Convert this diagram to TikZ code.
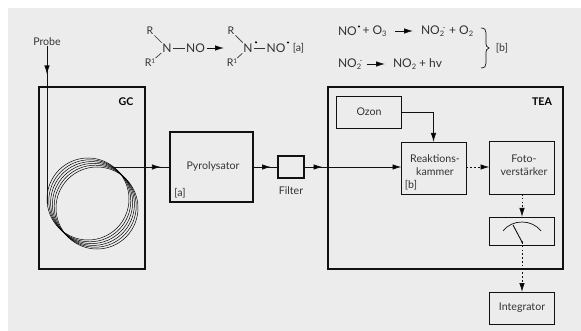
\documentclass[tikz,border=0pt]{standalone}
\usepackage{fontspec}
\setmainfont{Lato}
\usetikzlibrary{arrows.meta,decorations.markings}
\definecolor{bgc}{HTML}{ECECEC}
\definecolor{ink}{HTML}{111111}
\definecolor{txt}{HTML}{333333}
\newcommand{\sbs}[1]{\raisebox{-.25ex}{\fontsize{7.5}{8}\selectfont #1}}
\newcommand{\sps}[1]{\raisebox{.6ex}{\fontsize{6.5}{7}\selectfont #1}}
\tikzset{
  x=1pt,y=-1pt,
  lbl/.style={inner sep=0pt,outer sep=0pt,text=txt,font=\fontsize{10.6}{12}\selectfont,align=center},
  chem/.style={lbl,font=\fontsize{12}{13}\selectfont},
  boldlbl/.style={lbl,text=black,font=\fontsize{10.6}{12}\selectfont\bfseries},
  thinbox/.style={draw=ink,line width=.8pt,inner sep=0pt,outer sep=0pt},
  thickbox/.style={draw=ink,line width=1.5pt,inner sep=0pt,outer sep=0pt},
  conn/.style={draw=ink,line width=.8pt},
  tipstyle/.style={-{Latex[length=9pt,width=5.5pt,fill=black]}},
  midtip/.style={postaction={decorate},decoration={markings,mark=at position #1 with {\arrow{Latex[length=9pt,width=5.5pt,fill=black]}}}},
  dotline/.style={draw=ink,line width=.9pt,dash pattern=on 1.6pt off 2.2pt},
  bond/.style={draw=txt,line width=.7pt,shorten >=1.5pt,shorten <=1.5pt},
  coil/.style={draw=black,line width=.5pt},
  raddot/.style={fill=black}
}
\begin{document}
\begin{tikzpicture}
\useasboundingbox (0,0) rectangle (581,331);
\fill[bgc] (8,8) rectangle (581,331);

% boxes
\node[thickbox,line width=1.3pt,minimum width=106pt,minimum height=182pt] (gc) at (92,178) {};
\node[thickbox,minimum width=83pt,minimum height=70pt] (pyro) at (211.5,167) {};
\node[thickbox,minimum width=26pt,minimum height=22pt] (filt) at (291,167) {};
\node[thickbox,line width=1.7pt,minimum width=235pt,minimum height=182pt] (tea) at (445.5,178) {};
\node[thinbox,minimum width=65pt,minimum height=32pt] (ozon) at (369,112) {};
\node[thinbox,minimum width=65pt,minimum height=52pt] (reak) at (434,168) {};
\node[thinbox,minimum width=65pt,minimum height=53pt] (foto) at (522,167.5) {};
\node[thinbox,minimum width=65pt,minimum height=28pt] (meter) at (522,231) {};
\node[thinbox,minimum width=65pt,minimum height=32pt] (integ) at (522,308) {};

% labels
\node[boldlbl] (gcl) at (126,102) {GC};
\node[boldlbl] (teal) at (542,102) {TEA};
\node[lbl] (probe) at (47,42) {Probe};
\node[lbl] (pyl) at (213,167) {Pyrolysator};
\node[lbl] (pya) at (180,193) {[a]};
\node[lbl] (fl) at (291,191) {Filter};
\node[lbl] (ol) at (369,112) {Ozon};
\node[lbl] (rl1) at (435,159) {Reaktions-};
\node[lbl] (rl2) at (435,172) {kammer};
\node[lbl] (rb) at (411,185) {[b]};
\node[lbl] (fl1) at (524,159) {Foto-};
\node[lbl] (fl2) at (524,172) {verstärker};
\node[lbl] (il) at (522,308) {Integrator};

% coil
\foreach \i in {0,...,5}{
  \draw[coil] ({88+1.8*\i},{199+1.8*\i}) circle (41);
}
\coordinate (coilin) at (47,204);
\coordinate (coilout) at (113,167);

% connectors
\draw[conn,midtip=.18] (probe.south) -- (coilin);
\draw[conn,midtip=.84] (coilout) -- (pyro.west);
\draw[conn,midtip=.72] (pyro.east) -- (filt.west);
\draw[conn,tipstyle,midtip=.19] (filt.east) -- (reak.west |- filt.east);
\coordinate (ozbend) at (433.5,112);
\draw[conn,tipstyle] (ozon.east) -- (ozbend) -- (reak.north -| ozbend);
\coordinate (rmid) at (481,167);
\coordinate (rtip) at (490,167);
\draw[dotline] (reak.east |- rmid) -- (rmid);
\draw[conn,tipstyle] (rmid) -- (foto.west |- rtip);
\coordinate (fmid) at (522,208);
\draw[dotline] (foto.south) -- (fmid);
\draw[conn,tipstyle] (fmid) -- (meter.north);

% meter
\coordinate (piv) at (522,242);
\coordinate (ntop) at (513,225);
\coordinate (arcl) at (503,231);
\coordinate (arcr) at (541,231);
\draw[ink,line width=.7pt] (arcl) .. controls (512,219) and (532,219) .. (arcr);
\draw[ink,line width=.9pt] (ntop) -- (piv);
\fill[ink] (piv) circle (1);
\coordinate (imid) at (522,283);
\draw[dotline] (piv) -- (imid);
\draw[conn,tipstyle] (imid) -- (integ.north);

% chemistry 1
\node[lbl] (r1) at (150,31) {R};
\node[lbl] (r2) at (150,63) {R\sps{1}};
\node[chem] (n1) at (167,48) {N};
\node[chem] (no1) at (195.5,48) {NO};
\draw[bond] (r1) -- (n1);
\draw[bond] (r2) -- (n1);
\draw[bond] (n1) -- (no1);
\coordinate (a1end) at (224,48);
\draw[conn,tipstyle,shorten <=2pt] (no1) -- (a1end);

\node[lbl] (r3) at (231,31) {R};
\node[lbl] (r4) at (232,63) {R\sps{1}};
\node[chem] (n2) at (248,48) {N};
\node[chem] (no2) at (276,48) {NO};
\node[lbl] (ab) at (298.5,48) {[a]};
\draw[bond] (r3) -- (n2);
\draw[bond] (r4) -- (n2);
\draw[bond] (n2) -- (no2);
\fill[raddot] (256,42.3) circle (1.2);
\fill[raddot] (288,42.5) circle (1.2);

% chemistry 2
\node[chem,anchor=west] (e1) at (338,31) {NO};
\fill[raddot] (359,26.5) circle (1.2);
\node[chem,anchor=west] (e1b) at (362.5,31) {+ O\sbs{3}};
\node[chem,anchor=west] (e2) at (421,31) {NO\sbs{2}\hspace{2pt} + O\sbs{2}};
\coordinate (a2s) at (395,31);
\coordinate (a2e) at (413,31);
\draw[conn,tipstyle] (a2s) -- (a2e);
\fill[txt] (444,27.5) circle (.7);
\node[chem,anchor=west] (e3) at (338,64) {NO\sbs{2}};
\fill[txt] (361,60.5) circle (.7);
\node[chem,anchor=west] (e4) at (393,64) {NO\sbs{2} + hv};
\coordinate (a3s) at (367,64);
\coordinate (a3e) at (385,64);
\draw[conn,tipstyle] (a3s) -- (a3e);
\draw[ink,line width=.7pt] (481,28) .. controls (485,28) and (486,30) .. (486,33) -- (486,44) .. controls (486,46) and (487,47) .. (489,48) .. controls (487,49) and (486,50) .. (486,52) -- (486,63) .. controls (486,66) and (485,68) .. (481,68);
\node[lbl] (bb) at (502,48) {[b]};
\end{tikzpicture}
\end{document}
